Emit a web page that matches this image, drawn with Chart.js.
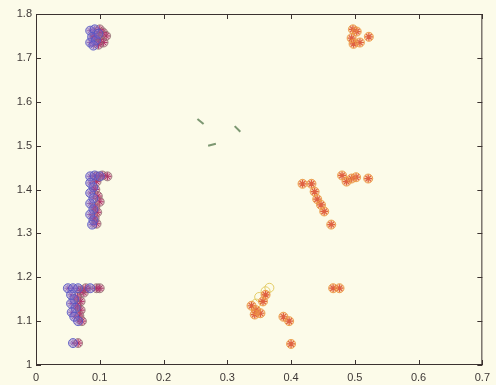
<!DOCTYPE html>
<html>
<head>
<meta charset="utf-8">
<script src="https://cdn.jsdelivr.net/npm/chart.js@4/dist/chart.umd.min.js"></script>
<style>
  body { margin: 0; background: #fcfbe9; }
  canvas { display: block; }
</style>
</head>
<body>
<canvas id="plot" width="496" height="385"></canvas>
<script>
// axis ticks
var xTicks = [0, 0.1, 0.2, 0.3, 0.4, 0.5, 0.6, 0.7];
var yTicks = [1, 1.1, 1.2, 1.3, 1.4, 1.5, 1.6, 1.7, 1.8];

// left groups, circles
var blueX = [0.085, 0.092, 0.088, 0.085, 0.094, 0.090, 0.098,
             0.085, 0.092, 0.085, 0.090, 0.085, 0.090, 0.085, 0.090, 0.085, 0.090, 0.088, 0.100,
             0.050, 0.058, 0.066, 0.085, 0.055, 0.060, 0.055, 0.062, 0.056, 0.060, 0.066, 0.058];
var blueY = [1.762, 1.765, 1.748, 1.735, 1.740, 1.728, 1.755,
             1.430, 1.432, 1.415, 1.405, 1.392, 1.380, 1.368, 1.355, 1.343, 1.330, 1.320, 1.430,
             1.175, 1.175, 1.175, 1.175, 1.160, 1.150, 1.140, 1.130, 1.120, 1.110, 1.100, 1.050];

// left groups, stars
var redX = [0.100, 0.105, 0.110, 0.100, 0.106, 0.098, 0.092,
            0.095, 0.104, 0.112, 0.095, 0.093, 0.097, 0.100, 0.093, 0.096, 0.092, 0.095,
            0.070, 0.075, 0.078, 0.095, 0.100, 0.065, 0.070, 0.065, 0.070, 0.068, 0.072, 0.066];
var redY = [1.765, 1.758, 1.750, 1.742, 1.735, 1.730, 1.750,
            1.430, 1.432, 1.430, 1.418, 1.400, 1.385, 1.372, 1.360, 1.348, 1.335, 1.322,
            1.170, 1.165, 1.175, 1.175, 1.175, 1.155, 1.145, 1.135, 1.125, 1.112, 1.100, 1.050];

// right groups, stars (circled)
var orangeX = [0.497, 0.503, 0.495, 0.498, 0.508, 0.522,
               0.480, 0.487, 0.495, 0.502, 0.521,
               0.418, 0.432, 0.437, 0.441, 0.447, 0.452, 0.463,
               0.466, 0.476,
               0.338, 0.345, 0.343, 0.352, 0.356, 0.360, 0.388, 0.397, 0.400];
var orangeY = [1.765, 1.760, 1.745, 1.732, 1.735, 1.748,
               1.432, 1.418, 1.425, 1.428, 1.425,
               1.413, 1.413, 1.395, 1.378, 1.365, 1.350, 1.320,
               1.175, 1.175,
               1.135, 1.125, 1.115, 1.118, 1.145, 1.160, 1.110, 1.100, 1.048];

// pale circles near the lower right group
var yellowX = [0.345, 0.350, 0.360, 0.366];
var yellowY = [1.140, 1.155, 1.168, 1.176];

// short green marks
var greenX = [0.258, 0.276, 0.316];
var greenY = [1.555, 1.502, 1.538];
var greenRot = [40, -15, 45];

function pts(xs, ys) {
  return xs.map(function (x, i) { return { x: x, y: ys[i] }; });
}

// inward ticks on all four sides plus the frame
var boxTicks = {
  id: 'boxTicks',
  afterDraw: function (chart) {
    var ctx = chart.ctx, a = chart.chartArea;
    var xs = chart.scales.x, ys = chart.scales.y;
    ctx.save();
    ctx.strokeStyle = '#3b3230';
    ctx.lineWidth = 1;
    ctx.strokeRect(a.left + 0.5, a.top + 0.5, a.right - a.left - 1, a.bottom - a.top - 1);
    ctx.beginPath();
    xTicks.forEach(function (v) {
      var p = Math.round(xs.getPixelForValue(v)) + 0.5;
      ctx.moveTo(p, a.bottom); ctx.lineTo(p, a.bottom - 5);
      ctx.moveTo(p, a.top); ctx.lineTo(p, a.top + 5);
    });
    yTicks.forEach(function (v) {
      var p = Math.round(ys.getPixelForValue(v)) + 0.5;
      ctx.moveTo(a.left, p); ctx.lineTo(a.left + 5, p);
      ctx.moveTo(a.right, p); ctx.lineTo(a.right - 5, p);
    });
    ctx.stroke();
    ctx.restore();
  }
};

var bg = {
  id: 'bg',
  beforeDraw: function (chart) {
    var ctx = chart.ctx;
    ctx.save();
    ctx.fillStyle = '#fcfbe9';
    ctx.fillRect(0, 0, chart.width, chart.height);
    ctx.restore();
  }
};

new Chart(document.getElementById('plot'), {
  type: 'scatter',
  data: {
    datasets: [
      { data: pts(blueX, blueY), pointStyle: 'circle', pointRadius: 4.5,
        borderColor: 'rgba(85,85,195,0.85)', backgroundColor: 'rgba(120,100,200,0.4)', borderWidth: 1 },
      { data: pts(redX, redY), pointStyle: 'circle', pointRadius: 4.5,
        borderColor: 'rgba(140,110,110,0.75)', backgroundColor: 'rgba(175,55,115,0.35)', borderWidth: 1 },
      { data: pts(redX, redY), pointStyle: 'star', pointRadius: 4,
        borderColor: 'rgba(175,35,90,0.9)', borderWidth: 1 },
      { data: pts(blueX, blueY), pointStyle: 'star', pointRadius: 3.5,
        borderColor: 'rgba(140,55,150,0.7)', borderWidth: 1 },
      { data: pts(orangeX, orangeY), pointStyle: 'circle', pointRadius: 4.5,
        borderColor: 'rgba(235,150,60,0.85)', backgroundColor: 'rgba(240,150,80,0.35)', borderWidth: 1 },
      { data: pts(orangeX, orangeY), pointStyle: 'star', pointRadius: 4,
        borderColor: 'rgba(210,50,40,0.9)', borderWidth: 1.2 },
      { data: pts(yellowX, yellowY), pointStyle: 'circle', pointRadius: 4.5,
        borderColor: 'rgba(225,200,90,0.9)', backgroundColor: 'rgba(0,0,0,0)', borderWidth: 1 },
      { data: pts(greenX, greenY), pointStyle: 'line', pointRadius: 4, rotation: greenRot,
        borderColor: 'rgba(110,140,100,0.9)', borderWidth: 2 }
    ]
  },
  options: {
    responsive: false,
    animation: false,
    events: [],
    layout: { padding: { top: 14, right: 13, left: 0, bottom: 0 } },
    plugins: { legend: { display: false }, tooltip: { enabled: false } },
    scales: {
      x: {
        type: 'linear', min: 0, max: 0.7,
        afterBuildTicks: function (s) { s.ticks = xTicks.map(function (v) { return { value: v }; }); },
        afterFit: function (s) { s.height = 20; },
        grid: { display: false, drawTicks: false }, border: { display: false },
        ticks: { color: '#3e3836', padding: 6, maxRotation: 0,
                 callback: function (v) { return String(v); },
                 font: { family: 'Liberation Sans', size: 11 } }
      },
      y: {
        type: 'linear', min: 1, max: 1.8,
        afterBuildTicks: function (s) { s.ticks = yTicks.map(function (v) { return { value: v }; }); },
        afterFit: function (s) { s.width = 36; },
        grid: { display: false, drawTicks: false }, border: { display: false },
        ticks: { color: '#3e3836', padding: 4,
                 callback: function (v) { return String(v); },
                 font: { family: 'Liberation Sans', size: 11 } }
      }
    }
  },
  plugins: [bg, boxTicks]
});
</script>
</body>
</html>
